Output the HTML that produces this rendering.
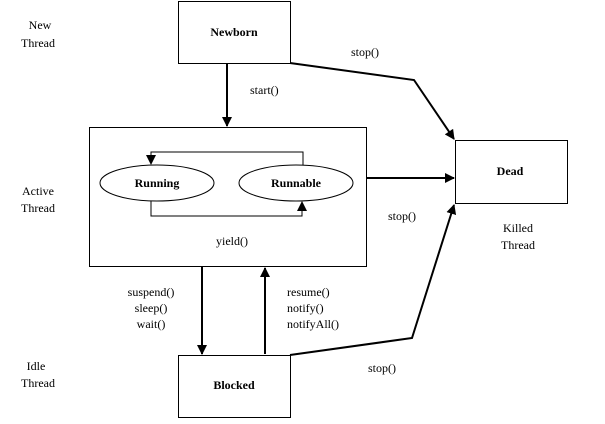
<!DOCTYPE html>
<html><head><style>
body{margin:0;background:#fff;}
svg text{font-family:"Liberation Serif",serif;font-size:12px;fill:#000;}
</style></head><body>
<svg width="605" height="419" viewBox="0 0 605 419" xmlns="http://www.w3.org/2000/svg">
<defs>
<marker id="a" markerWidth="10" markerHeight="10" refX="9" refY="5" orient="auto" markerUnits="userSpaceOnUse"><path d="M0,0 L10,5 L0,10 z" fill="#000"/></marker>
</defs>
<g fill="none" stroke="#000" stroke-width="1">
<rect x="178.5" y="1.5" width="112" height="62"/>
<rect x="89.5" y="127.5" width="277" height="139"/>
<rect x="455.5" y="140.5" width="112" height="63"/>
<rect x="178.5" y="355.5" width="112" height="62"/>
<ellipse cx="157" cy="183" rx="57" ry="18"/>
<ellipse cx="296" cy="183" rx="57" ry="18"/>
<polyline points="303,165 303,152 151,152 151,164" marker-end="url(#a)"/>
<polyline points="151,201 151,216 302,216 302,202" marker-end="url(#a)"/>
</g>
<g fill="none" stroke="#000" stroke-width="2">
<line x1="227" y1="64" x2="227" y2="126" marker-end="url(#a)"/>
<polyline points="290,63 414,80 454,139" marker-end="url(#a)"/>
<line x1="366" y1="178" x2="454" y2="178" marker-end="url(#a)"/>
<polyline points="290,355 412,338 454,205" marker-end="url(#a)"/>
<line x1="202" y1="267" x2="202" y2="354" marker-end="url(#a)"/>
<line x1="265" y1="354" x2="265" y2="268" marker-end="url(#a)"/>
</g>
<text x="234" y="36" text-anchor="middle" font-weight="bold">Newborn</text>
<text x="157" y="187" text-anchor="middle" font-weight="bold">Running</text>
<text x="296" y="187" text-anchor="middle" font-weight="bold">Runnable</text>
<text x="510" y="175" text-anchor="middle" font-weight="bold">Dead</text>
<text x="234" y="389" text-anchor="middle" font-weight="bold">Blocked</text>
<text x="40" y="29" text-anchor="middle">New</text>
<text x="38" y="47" text-anchor="middle">Thread</text>
<text x="38" y="195" text-anchor="middle">Active</text>
<text x="38" y="212" text-anchor="middle">Thread</text>
<text x="36" y="370" text-anchor="middle">Idle</text>
<text x="38" y="387" text-anchor="middle">Thread</text>
<text x="250" y="94">start()</text>
<text x="351" y="56">stop()</text>
<text x="388" y="220">stop()</text>
<text x="368" y="372">stop()</text>
<text x="216" y="245">yield()</text>
<text x="518" y="232" text-anchor="middle">Killed</text>
<text x="518" y="249" text-anchor="middle">Thread</text>
<text x="151" y="296" text-anchor="middle">suspend()</text>
<text x="151" y="312" text-anchor="middle">sleep()</text>
<text x="151" y="328" text-anchor="middle">wait()</text>
<text x="287" y="296">resume()</text>
<text x="287" y="312">notify()</text>
<text x="287" y="328">notifyAll()</text>
</svg>
</body></html>
